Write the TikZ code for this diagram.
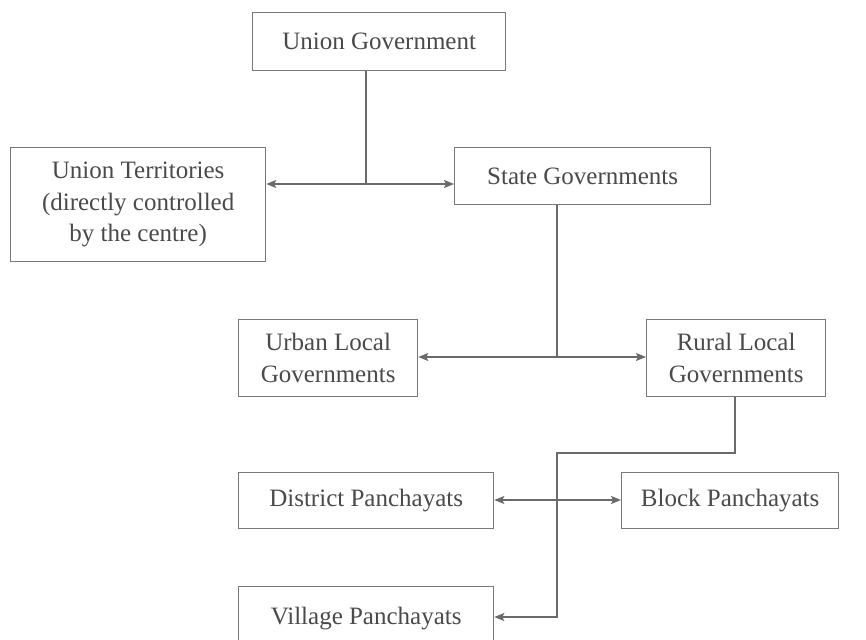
\documentclass[tikz,border=0pt]{standalone}
\usepackage{fontspec}
\setmainfont{Liberation Serif}
\usetikzlibrary{arrows.meta}
\definecolor{boxgray}{HTML}{787878}
\definecolor{linegray}{HTML}{6A6A6A}
\definecolor{textgray}{HTML}{4A4A4A}
\begin{document}
\begin{tikzpicture}[x=1pt,y=-1pt,
  box/.style={draw=boxgray, line width=1.3pt, rectangle, inner sep=0pt,
    align=center, text=textgray, font=\fontsize{25}{31.5}\selectfont, anchor=north west},
  conn/.style={draw=linegray, line width=1.5pt},
  tip/.style={-{Stealth[length=10pt,width=8pt,inset=2pt]}},
  dtip/.style={{Stealth[length=10pt,width=8pt,inset=2pt]}-{Stealth[length=10pt,width=8pt,inset=2pt]}}]
\useasboundingbox (0,0) rectangle (866,639);
\clip (0,0) rectangle (866,639);
\fill[white] (0,0) rectangle (866,639);

\node[box, minimum width=253pt, minimum height=58pt] (ug) at (252,12) {Union Government};
\node[box, minimum width=255pt, minimum height=114pt] (ut) at (10,147) {Union Territories\\(directly controlled\\by the centre)};
\node[box, minimum width=256pt, minimum height=57pt] (sg) at (454,147) {State Governments};
\node[box, minimum width=179pt, minimum height=77pt] (urban) at (238,319) {Urban Local\\Governments};
\node[box, minimum width=179pt, minimum height=77pt] (rural) at (646,319) {Rural Local\\Governments};
\node[box, minimum width=255pt, minimum height=56pt] (district) at (238,472) {District Panchayats};
\node[box, minimum width=217pt, minimum height=56pt] (block) at (621,472) {Block Panchayats};
\node[box, minimum width=255pt, minimum height=64pt] (village) at (238,586) {Village Panchayats};

% Union -> UT / State
\coordinate (j1) at (366,184);
\draw[conn] (ug.south -| j1) -- (j1);
\draw[conn,tip] (j1) -- (ut.east |- j1);
\draw[conn,tip] (j1) -- (sg.west |- j1);

% State -> Urban / Rural
\coordinate (j2) at (557,357);
\draw[conn] (sg.south -| j2) -- (j2);
\draw[conn,tip] (j2) -- (urban.east |- j2);
\draw[conn,tip] (j2) -- (rural.west |- j2);

% Rural -> Village
\coordinate (k1) at (735,453);
\coordinate (k2) at (557,453);
\coordinate (k3) at (557,617);
\draw[conn,tip] (rural.south -| k1) -- (k1) -- (k2) -- (k3) -- (village.east |- k3);

% District <-> Block
\coordinate (m) at (557,500);
\draw[conn,dtip] (district.east |- m) -- (block.west |- m);
\end{tikzpicture}
\end{document}
